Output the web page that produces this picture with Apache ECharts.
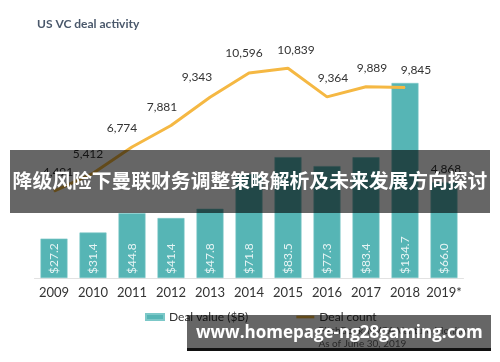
<!DOCTYPE html>
<html><head><meta charset="utf-8">
<script src="https://cdn.jsdelivr.net/npm/echarts@6/dist/echarts.min.js"></script>
<style>html,body{margin:0;padding:0;background:#fff}#c{width:500px;height:362px}</style>
</head><body><div id="c"></div>
<script>
// ---- data ----
var years = ['2009','2010','2011','2012','2013','2014','2015','2016','2017','2018','2019*'];
var dealValue = [27.2, 31.4, 44.8, 41.4, 47.8, 71.8, 83.5, 77.3, 83.4, 134.7, 66.0];
var dealCount = [4491, 5412, 6774, 7881, 9343, 10596, 10839, 9364, 9889, 9845, 4868];
var titleText = 'US VC deal activity';
var seriesNames = ['Deal value ($B)', 'Deal count'];
var sourceLines = ['PitchBook-NVCA Venture Monitor', 'As of June 30, 2019'];
var bandText = '降级风险下曼联财务调整策略解析及未来发展方向探讨';
var bannerText = 'www.homepage-ng28gaming.com';

// ---- style (label nudges, not data) ----
var labelShift = [[4,-12],[-5,-13],[-10,-12],[-9,-12],[-13,-14],[-5,-13],[8,-12],[6,-12],[6,-12],[11,-11],[2,-8]];

var isPrelim = years.map(function(y){ return y.indexOf('*') >= 0; });
var lineData = dealCount.map(function(v,i){
  return isPrelim[i] ? null : {value: v, label: {offset: labelShift[i]}};
});
var prelimData = dealCount.map(function(v,i){
  return isPrelim[i] ? {value: v, label: {offset: labelShift[i]}} : null;
});

var teal = '#56b5b5', orange = '#f5b843';
var chart = echarts.init(document.getElementById('c'), null, {renderer:'canvas'});
chart.setOption({
  animation: false,
  textStyle: {fontFamily: 'Lato'},
  title: {text: titleText, left: 32, top: 13,
    textStyle: {fontFamily:'Lato', fontSize: 12, fontWeight: 'bold', color: '#4a586b'}},
  legend: {
    left: 140, top: 306, itemWidth: 18, itemHeight: 6, itemGap: 48,
    textStyle: {fontFamily:'Lato', fontSize: 12, color:'#333'},
    data: [
      {name: seriesNames[0], icon: 'rect'},
      {name: seriesNames[1], icon: 'path://M0,0 L20,0 L20,3 L0,3 Z'}
    ]
  },
  grid: {left: 34.5, right: 36.5, top: 42, bottom: 84},
  xAxis: {
    type: 'category', data: years,
    axisLine: {lineStyle: {color: '#e2e2e2', width: 1}},
    axisTick: {show: false},
    axisLabel: {interval: 0, fontFamily:'Lato', fontSize: 13, color: '#333', margin: 8}
  },
  yAxis: [
    {type:'value', min: 0, max: 163, show: false, splitLine:{show:false}},
    {type:'value', min: 0, max: 12200, show: false, splitLine:{show:false}}
  ],
  series: [
    {
      name: seriesNames[0], type: 'bar', data: dealValue, barWidth: 27,
      itemStyle: {color: teal, borderColor: '#7cc8c8', borderWidth: 0.6},
      label: {show: true, position: 'insideBottom', rotate: 90, align: 'left',
        verticalAlign: 'middle', distance: 4,
        fontFamily: 'Lato', fontSize: 12, color: '#e6f4f4',
        formatter: function(p){ return '$' + p.value.toFixed(1); }}
    },
    {
      name: seriesNames[1], type: 'line', yAxisIndex: 1, data: lineData,
      symbol: 'circle', symbolSize: 1, showSymbol: true,
      itemStyle: {color: orange},
      lineStyle: {color: orange, width: 3},
      label: {show: true, position: 'top', distance: 0,
        fontFamily: 'Lato', fontSize: 12, color: '#333',
        formatter: function(p){ return p.value.toLocaleString('en-US'); }}
    },
    {
      name: seriesNames[1] + ' (prelim)', type: 'line', yAxisIndex: 1, data: prelimData,
      symbol: 'circle', symbolSize: 1, showSymbol: true,
      itemStyle: {color: orange}, lineStyle: {width: 0},
      label: {show: true, position: 'top', distance: 0,
        fontFamily: 'Lato', fontSize: 12, color: '#333',
        formatter: function(p){ return p.value.toLocaleString('en-US'); }}
    }
  ],
  graphic: [
    {type:'text', right: 30, top: 324, z: 50,
      style: {text: sourceLines.join('\n'), font: '10px Lato', fill: '#666', align: 'right', lineHeight: 13}},
    {type:'rect', left: 10, top: 150, z: 100, shape: {width: 480, height: 63},
      style: {fill: 'rgba(0,0,0,0.6)'}},
    {type:'text', left: 'center', top: 171, z: 101,
      style: {text: bandText, font: 'bold 19.8px "Noto Sans CJK SC"', fill: '#fff'}},
    {type:'rect', left: 187, top: 315, z: 100, shape: {width: 304, height: 34},
      style: {fill: 'rgba(0,0,0,0.6)'}},
    {type:'rect', left: 187, top: 348, z: 100, shape: {width: 304, height: 3},
      style: {fill: '#111'}},
    {type:'text', left: 196, top: 325, z: 101,
      style: {text: bannerText, font: 'bold 17px "Open Sans"', fill: '#fff'}}
  ]
});
</script></body></html>
